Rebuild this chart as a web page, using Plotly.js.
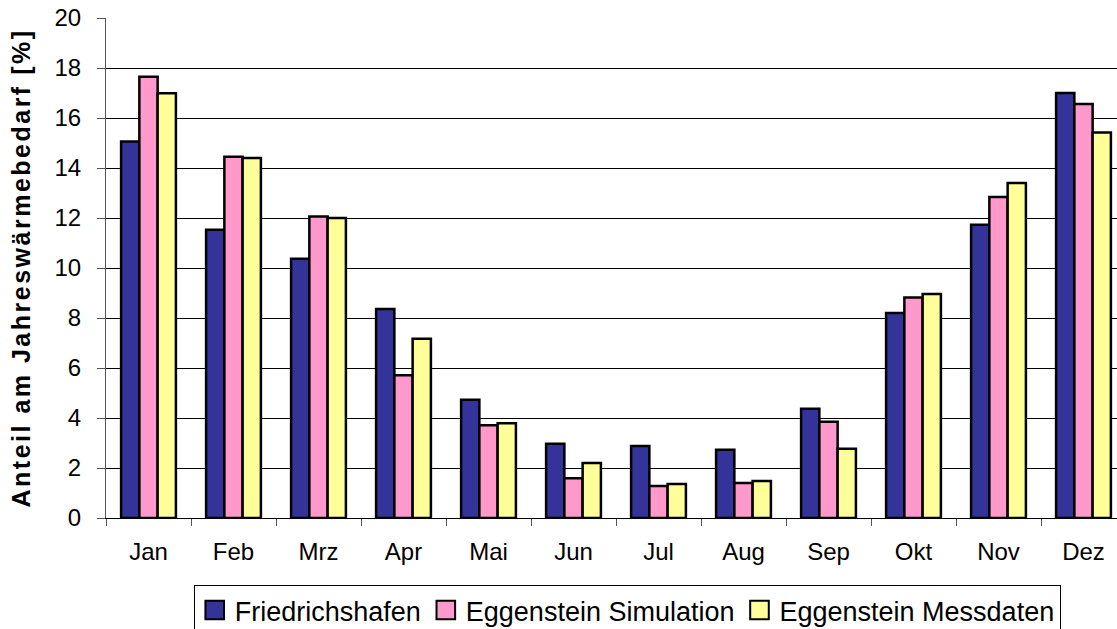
<!DOCTYPE html>
<html>
<head>
<meta charset="utf-8">
<script src="https://cdn.plot.ly/plotly-3.0.1.min.js"></script>
<style>
  html, body { margin: 0; padding: 0; background: #fff; overflow: hidden; }
  #chart { width: 1126px; height: 645px; }
  .ytitle { letter-spacing: 2.5px; }
</style>
</head>
<body>
<div id="chart"></div>
<script>
const months = ["Jan", "Feb", "Mrz", "Apr", "Mai", "Jun", "Jul", "Aug", "Sep", "Okt", "Nov", "Dez"];
const friedrichshafen = [15.06, 11.53, 10.37, 8.36, 4.73, 2.97, 2.88, 2.73, 4.37, 8.2, 11.73, 17.0];
const eggensteinSimulation = [17.65, 14.45, 12.06, 5.71, 3.71, 1.59, 1.28, 1.4, 3.85, 8.82, 12.84, 16.56];
const eggensteinMessdaten = [16.99, 14.4, 12.0, 7.17, 3.79, 2.2, 1.36, 1.48, 2.77, 8.96, 13.4, 15.42];
const seriesNames = ["Friedrichshafen", "Eggenstein Simulation", "Eggenstein Messdaten"];
const yTicks = [0, 2, 4, 6, 8, 10, 12, 14, 16, 18, 20];

const colors = ["#333399", "#FF99CC", "#FFFF99"];
const seriesValues = [friedrichshafen, eggensteinSimulation, eggensteinMessdaten];

const data = seriesValues.map((vals, i) => ({
  type: "bar",
  name: seriesNames[i],
  x: months,
  y: vals,
  marker: { color: colors[i], line: { color: "#000000", width: 2.5 } },
  hoverinfo: "x+y+name"
}));

const font = "Liberation Sans, Arial, sans-serif";

const layout = {
  width: 1126,
  height: 645,
  margin: { l: 106, r: 0, t: 18, b: 127 },
  paper_bgcolor: "#ffffff",
  plot_bgcolor: "#ffffff",
  barmode: "group",
  bargap: 0.355,
  bargroupgap: 0,
  font: { family: font, color: "#000000", size: 24 },
  xaxis: {
    type: "category",
    range: [-0.5, 11.5],
    tickson: "boundaries",
    ticks: "outside",
    ticklen: 7,
    tickwidth: 1,
    tickcolor: "#555555",
    showline: true,
    linecolor: "#000000",
    linewidth: 1,
    showgrid: false,
    tickfont: { family: font, size: 24, color: "#000000" },
    ticklabelstandoff: 12,
    fixedrange: true
  },
  yaxis: {
    range: [0, 20],
    tickvals: yTicks,
    ticktext: yTicks.map(String),
    ticks: "outside",
    ticklen: 8,
    tickwidth: 1,
    tickcolor: "#555555",
    showline: true,
    linecolor: "#555555",
    linewidth: 1,
    showgrid: true,
    gridcolor: "#000000",
    gridwidth: 1,
    zeroline: false,
    tickfont: { family: font, size: 24, color: "#000000" },
    ticklabelstandoff: 11,
    title: {
      text: "Anteil am Jahreswärmebedarf [%]",
      font: { family: font, size: 25, color: "#000000", weight: "bold" },
      standoff: 16
    },
    fixedrange: true
  },
  showlegend: true,
  legend: {
    orientation: "h",
    xref: "paper",
    yref: "paper",
    x: 0.511,
    xanchor: "center",
    y: -0.134,
    yanchor: "top",
    bgcolor: "#ffffff",
    bordercolor: "#000000",
    borderwidth: 1,
    font: { family: font, size: 27, color: "#000000" },
    traceorder: "normal"
  }
};

Plotly.newPlot("chart", data, layout, { displayModeBar: false, staticPlot: true }).then(function (gd) {
  // enlarge the legend swatches to match the reference's larger squares
  gd.querySelectorAll(".legend .legendpoints path").forEach(function (p) {
    const t = p.getAttribute("transform") || "";
    p.setAttribute("transform", t + " scale(1.55)");
    p.style.strokeWidth = "1.3px";
  });
});
</script>
</body>
</html>
